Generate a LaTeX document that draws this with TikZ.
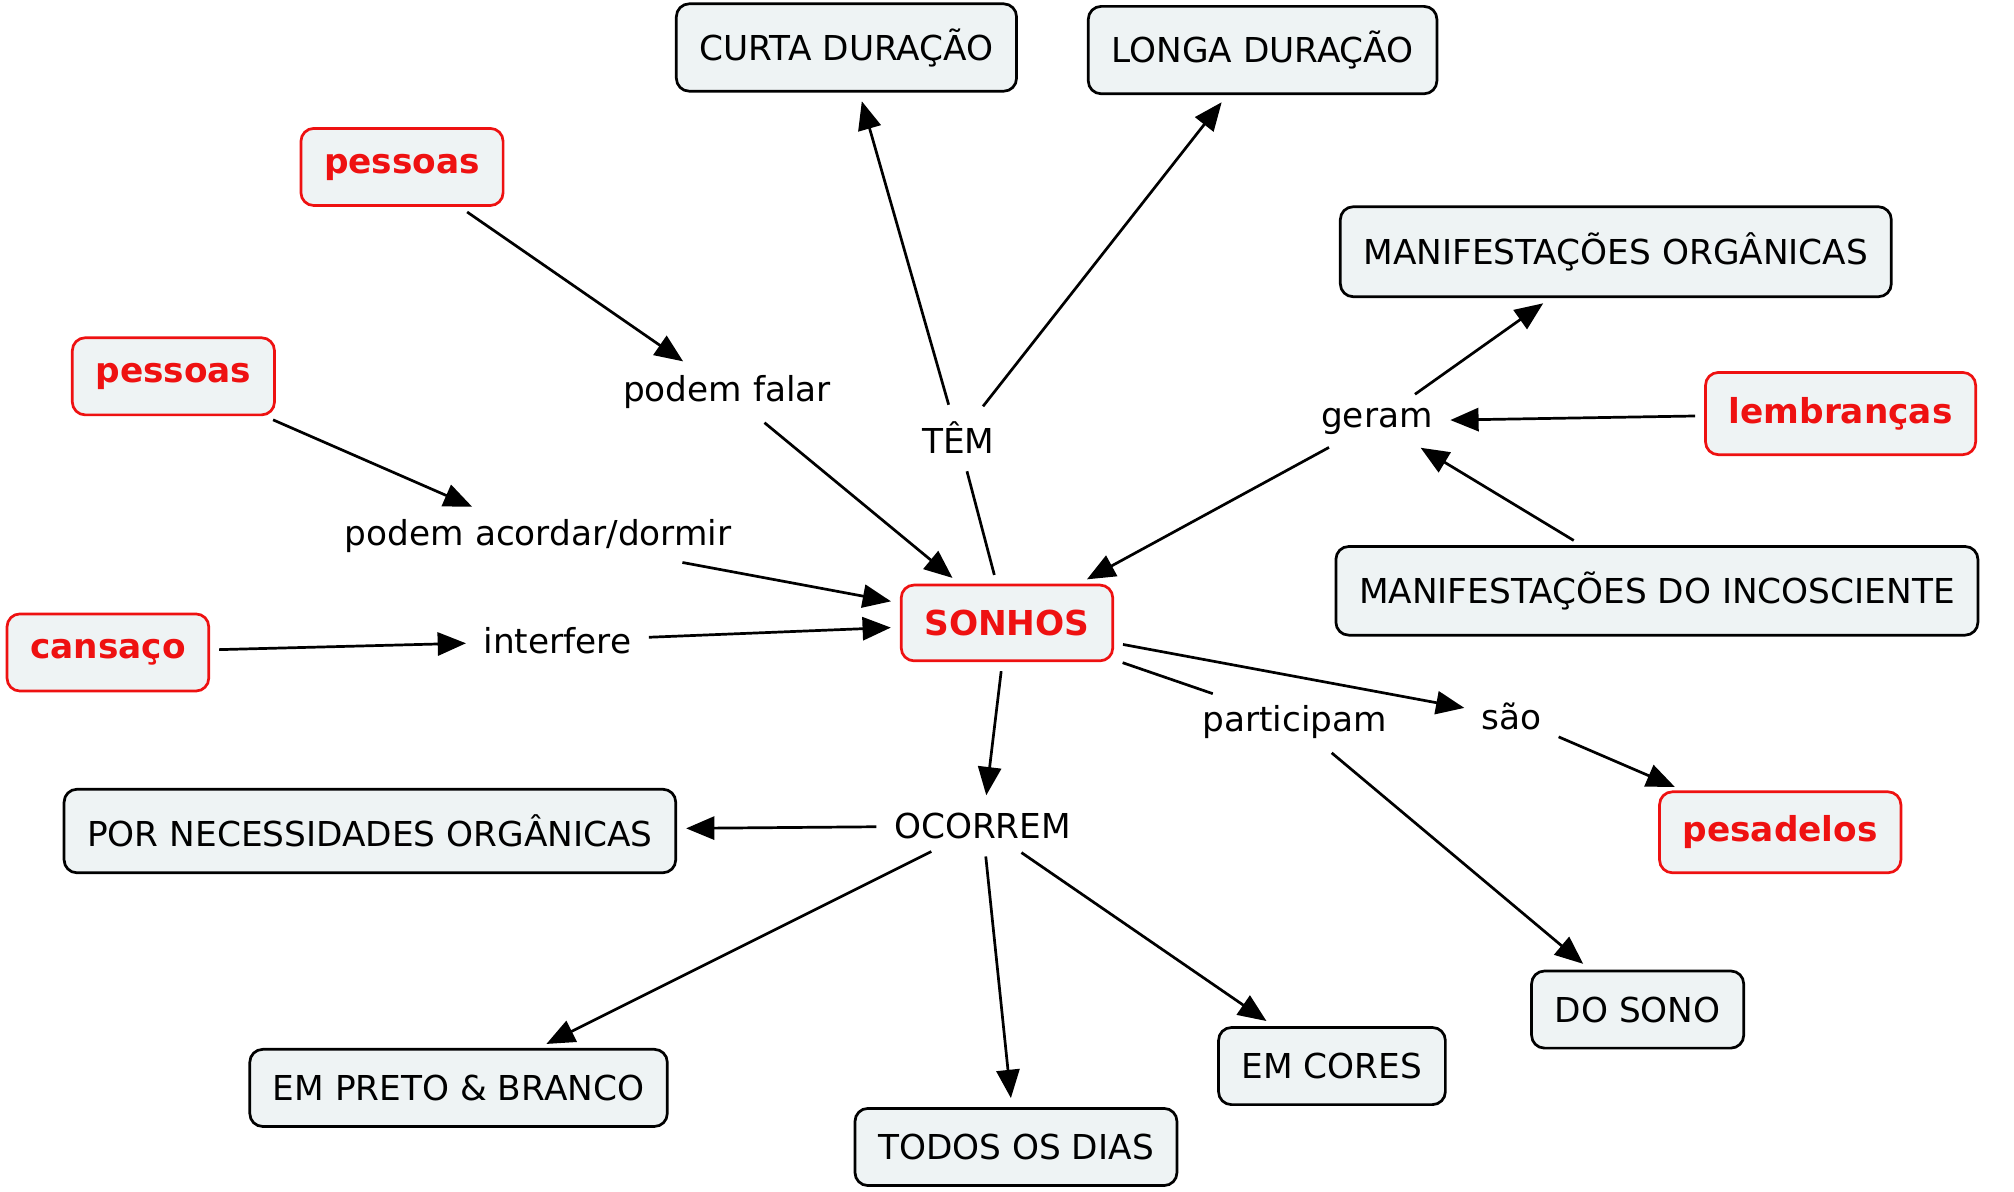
\documentclass[tikz,border=0pt]{standalone}
\usepackage{fontspec}
\setmainfont{DejaVu Sans}
\usetikzlibrary{arrows.meta}
\definecolor{boxfill}{HTML}{EEF3F4}
\definecolor{conceptred}{HTML}{EE1111}
\tikzset{
  every node/.append style={font=\fontsize{7.6}{9}\selectfont},
  concept/.style={draw, fill=boxfill, rounded corners=0.1cm, line width=0.6pt,
    inner xsep=0.18cm, minimum height=0.6cm},
  key concept/.style={concept, draw=conceptred, text=conceptred, font=\fontsize{7.6}{9}\selectfont\bfseries},
  link/.style={inner sep=0.06cm},
  arrow/.style={-{Triangle[length=0.22cm,width=0.18cm]}, line width=0.6pt, shorten >=2pt, shorten <=2pt},
  line/.style={line width=0.6pt, shorten >=2pt, shorten <=2pt}
}

\begin{document}
\begin{tikzpicture}[x=0.01cm, y=-0.01cm]
  \useasboundingbox (0,0) rectangle (1568,928);

  % concepts
  \node[key concept, minimum height=0.59cm] (sonhos) at (784,485) {SONHOS};
  \node[concept, minimum height=0.68cm] (curta) at (659,37) {CURTA DURAÇÃO};
  \node[concept, minimum height=0.68cm] (longa) at (983,39) {LONGA DURAÇÃO};
  \node[key concept] (pessoasA) at (313,130) {pessoas};
  \node[key concept] (pessoasB) at (135,293) {pessoas};
  \node[key concept] (cansaco) at (84,508) {cansaço};
  \node[concept, minimum height=0.7cm] (morg) at (1258,196) {MANIFESTAÇÕES ORGÂNICAS};
  \node[key concept, minimum height=0.64cm] (lembrancas) at (1433,322) {lembranças};
  \node[concept, minimum height=0.69cm] (minc) at (1290,460) {MANIFESTAÇÕES DO INCOSCIENTE};
  \node[concept, minimum height=0.65cm] (necess) at (288,647) {POR NECESSIDADES ORGÂNICAS};
  \node[key concept, minimum height=0.63cm] (pesadelos) at (1386,648) {pesadelos};
  \node[concept] (sono) at (1275,786) {DO SONO};
  \node[concept] (cores) at (1037,830) {EM CORES};
  \node[concept] (preto) at (357,847) {EM PRETO \& BRANCO};
  \node[concept] (todos) at (791,893) {TODOS OS DIAS};

  % linking phrases
  \node[link] (falar) at (566,305) {podem falar};
  \node[link] (tem) at (746,341) {TÊM};
  \node[link] (geram) at (1072,328) {geram};
  \node[link] (acordar) at (419,417) {podem acordar/dormir};
  \node[link] (interfere) at (434,499) {interfere};
  \node[link] (participam) at (1008,562) {participam};
  \node[link] (sao) at (1177,558) {são};
  \node[link] (ocorrem) at (765,643) {OCORREM};

  % connections
  \draw[arrow] (pessoasA) -- (falar);
  \draw[arrow] (falar) -- (sonhos);
  \draw[arrow] (pessoasB) -- (acordar);
  \draw[arrow] (acordar) -- (sonhos);
  \draw[arrow] (cansaco) -- (interfere);
  \draw[arrow] (interfere) -- (sonhos);
  \draw[line] (sonhos) -- (tem);
  \draw[arrow] (tem) -- (curta);
  \draw[arrow] (tem) -- (longa);
  \draw[arrow, {Triangle[length=0.22cm,width=0.18cm]}-] (sonhos) -- (geram);
  \draw[arrow] (geram) -- (morg);
  \draw[arrow, {Triangle[length=0.22cm,width=0.18cm]}-] (geram) -- (lembrancas);
  \draw[arrow] (minc) -- (geram);
  \draw[arrow] (sonhos) -- (sao);
  \draw[arrow] (sao) -- (pesadelos);
  \draw[line] (sonhos) -- (participam);
  \draw[arrow] (participam) -- (sono);
  \draw[arrow] (sonhos) -- (ocorrem);
  \draw[arrow] (ocorrem) -- (necess);
  \draw[arrow] (ocorrem) -- (preto);
  \draw[arrow] (ocorrem) -- (todos);
  \draw[arrow] (ocorrem) -- (cores);
\end{tikzpicture}
\end{document}
